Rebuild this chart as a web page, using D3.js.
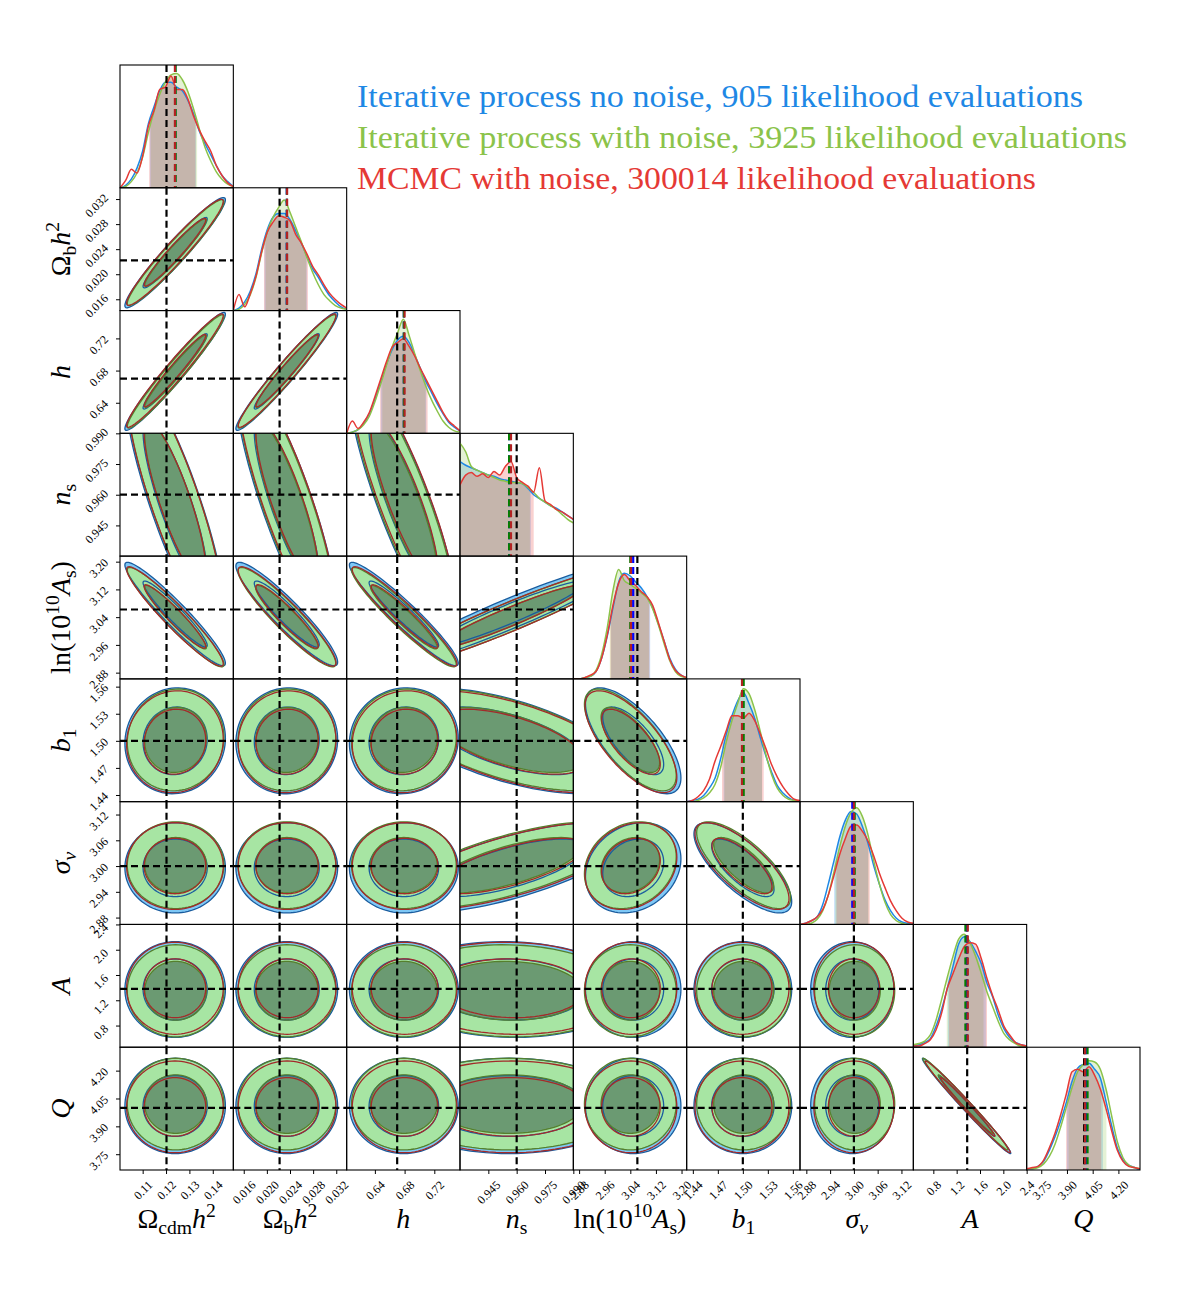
<!DOCTYPE html>
<html>
<head>
<meta charset="utf-8">
<script src="https://cdn.jsdelivr.net/npm/d3@7"></script>
<style>
body { margin: 0; background: #fff; }
text { font-family: "Liberation Serif", "DejaVu Serif", serif; }
</style>
</head>
<body>
<svg id="chart" width="1200" height="1300"></svg>
<script>
// parametros del corner plot
const ranges = [[0.1003, 0.1488], [0.0142, 0.0338], [0.602, 0.7546], [0.930, 0.990], [2.862, 3.216],
                [1.4326, 1.5686], [2.864, 3.15], [0.457, 2.40], [3.665, 4.326]];
const tickValues = [[0.11, 0.12, 0.13, 0.14], [0.016, 0.020, 0.024, 0.028, 0.032], [0.64, 0.68, 0.72],
                    [0.945, 0.960, 0.975, 0.990], [2.88, 2.96, 3.04, 3.12, 3.20], [1.44, 1.47, 1.50, 1.53, 1.56],
                    [2.88, 2.94, 3.00, 3.06, 3.12], [0.8, 1.2, 1.6, 2.0, 2.4], [3.75, 3.90, 4.05, 4.20]];
const tickLabels = [["0.11", "0.12", "0.13", "0.14"], ["0.016", "0.020", "0.024", "0.028", "0.032"],
                    ["0.64", "0.68", "0.72"], ["0.945", "0.960", "0.975", "0.990"],
                    ["2.88", "2.96", "3.04", "3.12", "3.20"], ["1.44", "1.47", "1.50", "1.53", "1.56"],
                    ["2.88", "2.94", "3.00", "3.06", "3.12"], ["0.8", "1.2", "1.6", "2.0", "2.4"],
                    ["3.75", "3.90", "4.05", "4.20"]];
const truths = [0.1202, 0.0222, 0.670, 0.960, 3.062, 1.50, 3.00, 1.38, 4.00];

// etiquetas (partes: texto, tipo)
const labelParts = [
    [["Ω", "n"], ["cdm", "sub"], ["h", "i"], ["2", "sup"]],
    [["Ω", "n"], ["b", "sub"], ["h", "i"], ["2", "sup"]],
    [["h", "i"]],
    [["n", "i"], ["s", "sub"]],
    [["ln(10", "n"], ["10", "sup"], ["A", "i"], ["s", "sub"], [")", "n"]],
    [["b", "i"], ["1", "sub"]],
    [["σ", "i"], ["v", "subi"]],
    [["A", "i"]],
    [["Q", "i"]]
];

const legendTexts = ["Iterative process no noise, 905 likelihood evaluations",
                     "Iterative process with noise, 3925 likelihood evaluations",
                     "MCMC with noise, 300014 likelihood evaluations"];

// medias e intervalos por serie (azul, verde, rojo)
const meansBlue  = [0.1239, 0.02344, 0.679, 0.956, 3.049, 1.500, 2.996, 1.37, 4.010];
const meansGreen = [0.1241, 0.02346, 0.679, 0.956, 3.040, 1.501, 3.002, 1.35, 4.020];
const meansRed   = [0.1238, 0.02350, 0.680, 0.957, 3.042, 1.499, 3.000, 1.39, 4.005];

const intervalsBlue  = [[0.1131, 0.1328], [0.0196, 0.0269], [0.648, 0.709], [0.930, 0.9675], [2.980, 3.102],
                        [1.477, 1.523], [2.950, 3.036], [1.05, 1.70], [3.90, 4.11]];
const intervalsGreen = [[0.1135, 0.1333], [0.0198, 0.0268], [0.650, 0.708], [0.930, 0.967], [2.976, 3.098],
                        [1.478, 1.523], [2.953, 3.037], [1.03, 1.66], [3.91, 4.13]];
const intervalsRed   = [[0.1128, 0.1326], [0.0195, 0.0271], [0.647, 0.711], [0.930, 0.969], [2.978, 3.100],
                        [1.475, 1.525], [2.956, 3.040], [1.07, 1.72], [3.895, 4.10]];

// marginales 1D (altura relativa, 21 puntos sobre el rango)
const curvesBlue = [
    [0.0, 0.02, 0.07, 0.16, 0.30, 0.52, 0.66, 0.79, 0.86, 0.86, 0.82, 0.79, 0.71, 0.60, 0.46, 0.36, 0.27, 0.18, 0.10, 0.05, 0.01],
    [0.0, 0.02, 0.07, 0.16, 0.30, 0.50, 0.66, 0.76, 0.79, 0.79, 0.74, 0.65, 0.55, 0.44, 0.34, 0.27, 0.19, 0.12, 0.07, 0.03, 0.01],
    [0.0, 0.01, 0.03, 0.08, 0.16, 0.28, 0.42, 0.56, 0.68, 0.76, 0.79, 0.74, 0.64, 0.53, 0.42, 0.33, 0.24, 0.16, 0.09, 0.05, 0.02],
    [0.77, 0.74, 0.72, 0.70, 0.68, 0.66, 0.65, 0.63, 0.62, 0.61, 0.60, 0.59, 0.55, 0.50, 0.47, 0.44, 0.41, 0.39, 0.36, 0.33, 0.30],
    [0.0, 0.0, 0.01, 0.02, 0.06, 0.17, 0.35, 0.58, 0.79, 0.86, 0.84, 0.79, 0.74, 0.67, 0.58, 0.45, 0.31, 0.17, 0.08, 0.03, 0.01],
    [0.0, 0.01, 0.02, 0.05, 0.11, 0.19, 0.35, 0.55, 0.70, 0.82, 0.89, 0.80, 0.68, 0.52, 0.37, 0.24, 0.13, 0.07, 0.03, 0.01, 0.0],
    [0.0, 0.01, 0.03, 0.06, 0.16, 0.33, 0.52, 0.71, 0.85, 0.92, 0.90, 0.80, 0.66, 0.48, 0.33, 0.20, 0.11, 0.05, 0.02, 0.01, 0.0],
    [0.01, 0.02, 0.04, 0.07, 0.17, 0.31, 0.48, 0.66, 0.84, 0.90, 0.86, 0.78, 0.68, 0.52, 0.41, 0.26, 0.15, 0.08, 0.04, 0.02, 0.01],
    [0.01, 0.01, 0.03, 0.07, 0.16, 0.27, 0.40, 0.55, 0.72, 0.83, 0.86, 0.87, 0.82, 0.75, 0.56, 0.36, 0.18, 0.08, 0.04, 0.02, 0.0]
];
const curvesGreen = [
    [0.0, 0.01, 0.05, 0.12, 0.25, 0.45, 0.62, 0.76, 0.86, 0.92, 0.93, 0.88, 0.78, 0.64, 0.48, 0.33, 0.22, 0.13, 0.07, 0.03, 0.01],
    [0.0, 0.01, 0.05, 0.13, 0.27, 0.47, 0.64, 0.76, 0.84, 0.90, 0.80, 0.68, 0.56, 0.43, 0.31, 0.21, 0.13, 0.08, 0.04, 0.02, 0.01],
    [0.0, 0.01, 0.03, 0.07, 0.14, 0.26, 0.40, 0.55, 0.70, 0.82, 0.93, 0.80, 0.65, 0.51, 0.38, 0.27, 0.18, 0.10, 0.05, 0.02, 0.01],
    [0.92, 0.85, 0.73, 0.70, 0.68, 0.66, 0.64, 0.62, 0.61, 0.60, 0.60, 0.59, 0.56, 0.52, 0.47, 0.44, 0.41, 0.38, 0.34, 0.30, 0.27],
    [0.0, 0.0, 0.01, 0.02, 0.07, 0.20, 0.42, 0.72, 0.89, 0.80, 0.77, 0.74, 0.70, 0.66, 0.57, 0.44, 0.29, 0.15, 0.06, 0.02, 0.01],
    [0.0, 0.0, 0.01, 0.03, 0.07, 0.14, 0.28, 0.49, 0.66, 0.80, 0.92, 0.88, 0.75, 0.57, 0.38, 0.22, 0.11, 0.05, 0.02, 0.01, 0.0],
    [0.0, 0.0, 0.01, 0.04, 0.11, 0.24, 0.43, 0.63, 0.80, 0.91, 0.95, 0.88, 0.73, 0.52, 0.33, 0.18, 0.08, 0.03, 0.01, 0.0, 0.0],
    [0.02, 0.03, 0.05, 0.10, 0.22, 0.39, 0.57, 0.74, 0.88, 0.92, 0.85, 0.74, 0.60, 0.45, 0.33, 0.21, 0.11, 0.06, 0.03, 0.01, 0.01],
    [0.01, 0.01, 0.02, 0.05, 0.11, 0.21, 0.35, 0.51, 0.67, 0.80, 0.86, 0.89, 0.88, 0.82, 0.66, 0.44, 0.23, 0.10, 0.04, 0.02, 0.01]
];
const curvesRed = [
    [0.0, 0.06, 0.15, 0.12, 0.26, 0.50, 0.63, 0.80, 0.82, 0.91, 0.80, 0.80, 0.72, 0.58, 0.47, 0.38, 0.30, 0.18, 0.10, 0.04, 0.01],
    [0.0, 0.13, 0.03, 0.14, 0.28, 0.48, 0.64, 0.72, 0.77, 0.76, 0.73, 0.62, 0.55, 0.46, 0.36, 0.29, 0.21, 0.14, 0.09, 0.05, 0.02],
    [0.0, 0.10, 0.04, 0.09, 0.17, 0.30, 0.44, 0.58, 0.70, 0.74, 0.77, 0.71, 0.63, 0.53, 0.44, 0.35, 0.26, 0.17, 0.10, 0.06, 0.02],
    [0.58, 0.66, 0.68, 0.65, 0.67, 0.64, 0.69, 0.66, 0.73, 0.77, 0.64, 0.60, 0.57, 0.52, 0.72, 0.45, 0.42, 0.38, 0.36, 0.33, 0.30],
    [0.0, 0.0, 0.01, 0.03, 0.06, 0.17, 0.36, 0.60, 0.78, 0.85, 0.80, 0.76, 0.71, 0.67, 0.60, 0.46, 0.31, 0.16, 0.07, 0.03, 0.01],
    [0.0, 0.01, 0.04, 0.09, 0.18, 0.33, 0.45, 0.58, 0.70, 0.70, 0.68, 0.72, 0.66, 0.55, 0.43, 0.30, 0.20, 0.12, 0.06, 0.02, 0.01],
    [0.0, 0.01, 0.03, 0.06, 0.12, 0.24, 0.40, 0.57, 0.70, 0.80, 0.81, 0.76, 0.68, 0.56, 0.42, 0.30, 0.19, 0.11, 0.05, 0.02, 0.01],
    [0.01, 0.01, 0.03, 0.06, 0.14, 0.28, 0.48, 0.60, 0.72, 0.82, 0.85, 0.84, 0.72, 0.56, 0.42, 0.30, 0.17, 0.10, 0.04, 0.02, 0.01],
    [0.01, 0.02, 0.03, 0.08, 0.18, 0.30, 0.45, 0.62, 0.80, 0.82, 0.80, 0.84, 0.77, 0.66, 0.50, 0.32, 0.16, 0.07, 0.03, 0.02, 0.01]
];

const sigma2d = [0.0088, 0.0036, 0.030, 0.026, 0.061, 0.024, 0.043, 0.31, 0.105];
const correlations = [
    [],
    [0.96],
    [0.97, 0.97],
    [-0.85, -0.85, -0.86],
    [-0.95, -0.93, -0.95, 0.95],
    [0.05, 0.03, 0.05, -0.60, -0.70],
    [0.0, 0.0, 0.0, 0.70, 0.20, -0.75],
    [0.0, 0.0, 0.0, -0.05, 0.0, 0.0, 0.0],
    [0.0, 0.0, 0.0, 0.0, 0.0, 0.0, 0.0, -0.99]
];

const series = [
    {name: "blue", curve: "#1e88e5", mean: "#0000ff", means: meansBlue, intervals: intervalsBlue, curves: curvesBlue,
     outer: "#7ec8f6", inner: "#5aa6dc", line: "#1a5c9e", scale: 1.04, filled: true},
    {name: "green", curve: "#8bc34a", mean: "#008000", means: meansGreen, intervals: intervalsGreen, curves: curvesGreen,
     outer: "#a7e5a3", inner: "#6b9a72", line: "#55802d", scale: 1.0, filled: true},
    {name: "red", curve: "#e53935", mean: "#b22222", means: meansRed, intervals: intervalsRed, curves: curvesRed,
     outer: "none", inner: "none", line: "#a32a2a", scale: 1.0, filled: false}
];

const svg = d3.select("#chart");
const marginLeft = 120, marginTop = 65;
const n = ranges.length;
const W = 1020 / n, H = 1105 / n;
const K_IN = 1.5, K_OUT = 2.35;

const xs = ranges.map(r => d3.scaleLinear().domain(r).range([0, W]));
const ys = ranges.map(r => d3.scaleLinear().domain(r).range([H, 0]));
const alto = d3.scaleLinear().domain([0, 1]).range([H, 0]);
const defs = svg.append("defs");

function ellipse(mx, my, sx, sy, r, k) {
    return d3.range(0, 97).map(m => {
        const t = m / 96 * 2 * Math.PI;
        return [mx + k * sx * Math.cos(t), my + k * sy * (r * Math.cos(t) + Math.sqrt(1 - r * r) * Math.sin(t))];
    });
}

function dashed(g, x1, y1, x2, y2, color) {
    g.append("line")
        .attr("x1", x1).attr("y1", y1).attr("x2", x2).attr("y2", y2)
        .attr("stroke", color).attr("stroke-width", 2.2)
        .attr("stroke-dasharray", "7,4");
}

function diagonal(g, i) {
    const grid = d3.range(21).map(k => ranges[i][0] + k * (ranges[i][1] - ranges[i][0]) / 20);
    const area = d3.area()
        .x((d, k) => xs[i](grid[k]))
        .y0(H)
        .y1(d => alto(d))
        .curve(d3.curveMonotoneX);
    const linea = d3.line()
        .x((d, k) => xs[i](grid[k]))
        .y(d => alto(d))
        .curve(d3.curveMonotoneX);

    // sombreado del intervalo
    series.forEach(s => {
        const id = "int-" + i + "-" + s.name;
        const [lo, hi] = s.intervals[i];
        defs.append("clipPath").attr("id", id)
            .append("rect")
            .attr("x", xs[i](lo)).attr("y", 0)
            .attr("width", xs[i](hi) - xs[i](lo)).attr("height", H);
        g.append("path")
            .attr("d", area(s.curves[i]))
            .attr("fill", s.curve).attr("fill-opacity", 0.23)
            .attr("clip-path", "url(#" + id + ")");
    });
    series.forEach(s => {
        g.append("path")
            .attr("d", linea(s.curves[i]))
            .attr("fill", "none").attr("stroke", s.curve).attr("stroke-width", 1.5);
    });
    dashed(g, xs[i](truths[i]), 0, xs[i](truths[i]), H, "#000");
    series.forEach(s => {
        dashed(g, xs[i](s.means[i]), 0, xs[i](s.means[i]), H, s.mean);
    });
}

function offDiagonal(g, i, j) {
    const r = correlations[i][j];
    const linea = d3.line()
        .x(p => xs[j](p[0]))
        .y(p => ys[i](p[1]))
        .curve(d3.curveLinearClosed);
    const shape = (s, k) => ellipse(s.means[j], s.means[i], sigma2d[j] * s.scale, sigma2d[i] * s.scale, r, k);

    series.filter(s => s.filled).forEach(s => {
        g.append("path").attr("d", linea(shape(s, K_OUT))).attr("fill", s.outer);
        g.append("path").attr("d", linea(shape(s, K_IN))).attr("fill", s.inner);
    });
    series.forEach(s => {
        [K_OUT, K_IN].forEach(k => {
            g.append("path").attr("d", linea(shape(s, k)))
                .attr("fill", "none").attr("stroke", s.line).attr("stroke-width", 1.3);
        });
    });
    dashed(g, xs[j](truths[j]), 0, xs[j](truths[j]), H, "#000");
    dashed(g, 0, ys[i](truths[i]), W, ys[i](truths[i]), "#000");
}

// paneles
for (let i = 0; i < n; i++) {
    for (let j = 0; j <= i; j++) {
        const id = "clip-" + i + "-" + j;
        defs.append("clipPath").attr("id", id)
            .append("rect").attr("width", W).attr("height", H);
        const panel = svg.append("g").attr("transform", `translate(${marginLeft + j * W},${marginTop + i * H})`);
        const g = panel.append("g").attr("clip-path", "url(#" + id + ")");
        if (i === j) diagonal(g, i);
        else offDiagonal(g, i, j);
        panel.append("rect")
            .attr("width", W).attr("height", H)
            .attr("fill", "none").attr("stroke", "#000").attr("stroke-width", 1.1);
    }
}

// ejes x (fila inferior)
for (let j = 0; j < n; j++) {
    const ax = svg.append("g")
        .attr("transform", `translate(${marginLeft + j * W},${marginTop + n * H})`)
        .call(d3.axisBottom(xs[j]).tickValues(tickValues[j]).tickSize(4)
            .tickFormat((d, k) => tickLabels[j][k]));
    ax.select(".domain").remove();
    ax.selectAll(".tick line").attr("stroke", "#000");
    ax.selectAll(".tick text")
        .attr("font-size", 12).attr("font-family", "Liberation Serif, serif").attr("fill", "#000")
        .attr("text-anchor", "middle").attr("dy", null).attr("x", 0).attr("y", 0)
        .attr("dominant-baseline", "central")
        .each(function() {
            const L = this.getComputedTextLength();
            const half = (L + 8) * 0.7071 / 2;
            d3.select(this).attr("transform", `translate(0,${10 + half}) rotate(-45)`);
        });
}

// ejes y (columna izquierda)
for (let i = 1; i < n; i++) {
    const ax = svg.append("g")
        .attr("transform", `translate(${marginLeft},${marginTop + i * H})`)
        .call(d3.axisLeft(ys[i]).tickValues(tickValues[i]).tickSize(4)
            .tickFormat((d, k) => tickLabels[i][k]));
    ax.select(".domain").remove();
    ax.selectAll(".tick line").attr("stroke", "#000");
    ax.selectAll(".tick text")
        .attr("font-size", 12).attr("font-family", "Liberation Serif, serif").attr("fill", "#000")
        .attr("text-anchor", "middle").attr("dy", null).attr("x", 0).attr("y", 0)
        .attr("dominant-baseline", "central")
        .each(function() {
            const L = this.getComputedTextLength();
            const half = (L + 8) * 0.7071 / 2;
            d3.select(this).attr("transform", `translate(${-11 - half},${6}) rotate(-45)`);
        });
}

// etiquetas de los ejes
function mathLabel(sel, parts, size) {
    let shift = 0;
    parts.forEach(([t, kind]) => {
        let target = 0, fs = size, style = "normal";
        if (kind === "i") style = "italic";
        if (kind === "sub" || kind === "subi") {
            target = size * 0.22; fs = size * 0.7;
            if (kind === "subi") style = "italic";
        }
        if (kind === "sup") { target = -size * 0.4; fs = size * 0.7; }
        sel.append("tspan")
            .attr("dy", target - shift)
            .attr("font-size", fs).attr("font-style", style)
            .text(t);
        shift = target;
    });
}

labelParts.forEach((parts, j) => {
    const t = svg.append("text")
        .attr("x", marginLeft + (j + 0.5) * W).attr("y", 1228)
        .attr("text-anchor", "middle").attr("fill", "#000").attr("font-size", 28);
    mathLabel(t, parts, 28);
});
labelParts.forEach((parts, i) => {
    if (i === 0) return;
    const cy = marginTop + (i + 0.5) * H;
    const t = svg.append("text")
        .attr("transform", `translate(70,${cy}) rotate(-90)`)
        .attr("text-anchor", "middle").attr("fill", "#000").attr("font-size", 28);
    mathLabel(t, parts, 28);
});

// leyenda
const legendWidths = [726, 770, 679];
legendTexts.forEach((txt, k) => {
    svg.append("text")
        .attr("x", 357).attr("y", 107 + k * 41)
        .attr("font-size", 31)
        .attr("fill", series[k].curve)
        .attr("textLength", legendWidths[k])
        .attr("lengthAdjust", "spacingAndGlyphs")
        .text(txt);
});
</script>
</body>
</html>
